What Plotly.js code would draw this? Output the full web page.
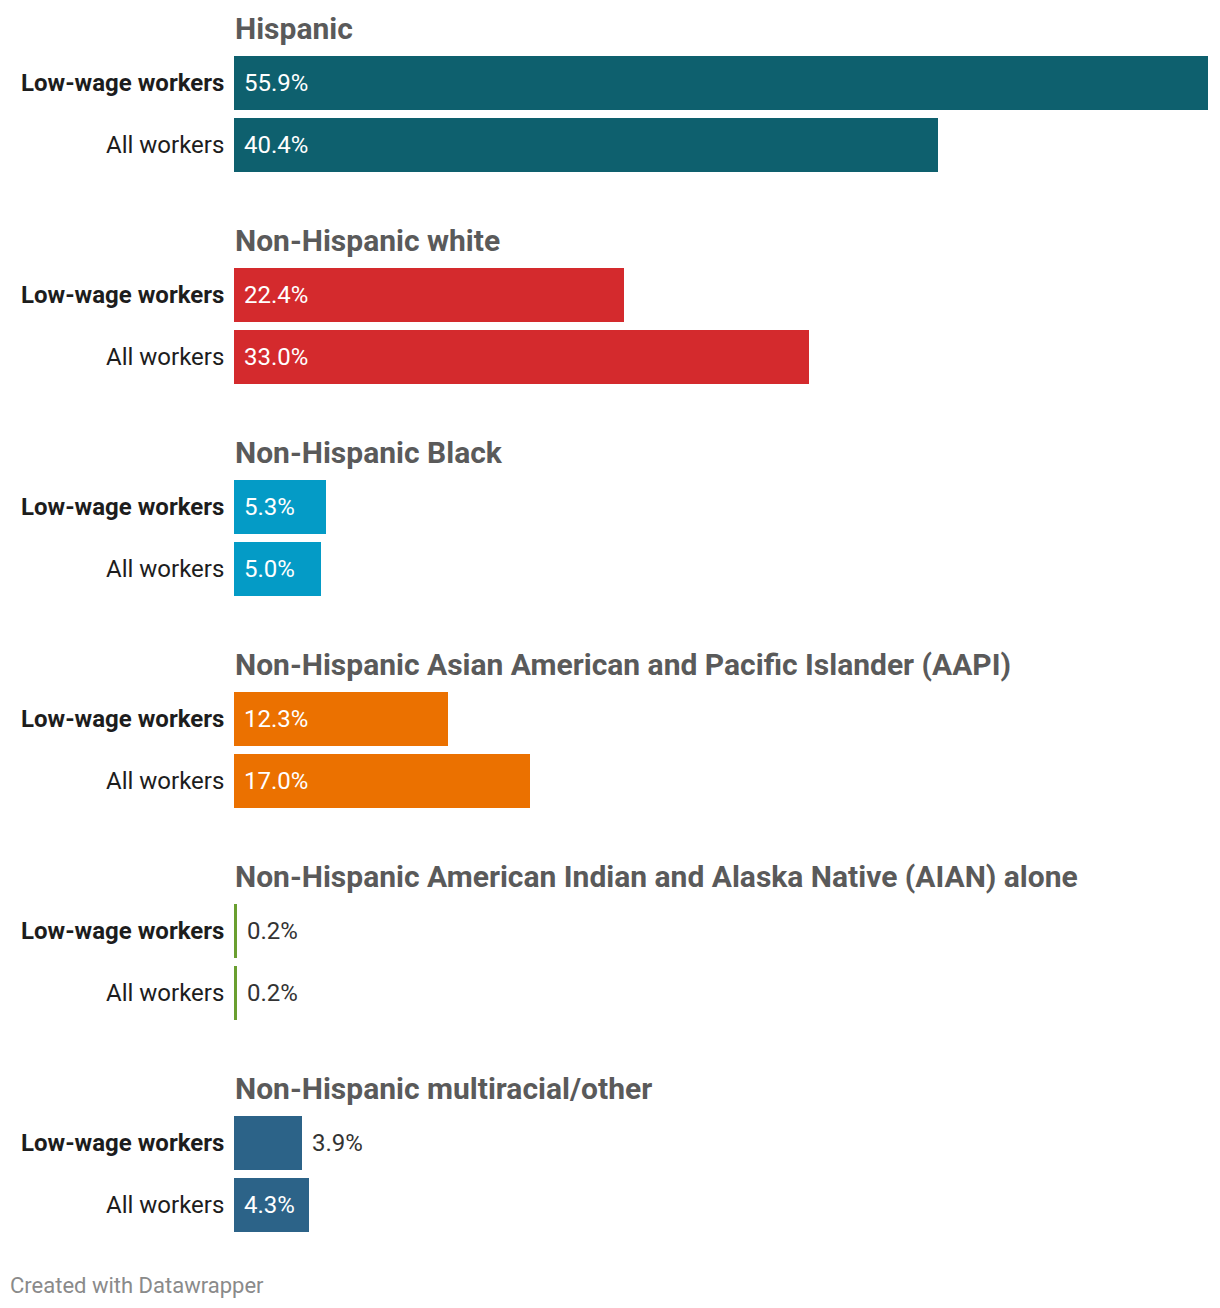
<!DOCTYPE html>
<html>
<head>
<meta charset="utf-8">
<script src="https://cdn.plot.ly/plotly-3.0.1.min.js"></script>
<style>html,body{margin:0;padding:0;background:#fff;}#chart{width:1220px;height:1308px;}</style>
</head>
<body>
<div id="chart"></div>
<script>
// ---- data ----
const groups = [
  "Hispanic",
  "Non-Hispanic white",
  "Non-Hispanic Black",
  "Non-Hispanic Asian American and Pacific Islander (AAPI)",
  "Non-Hispanic American Indian and Alaska Native (AIAN) alone",
  "Non-Hispanic multiracial/other"
];
const rowLabels = ["Low-wage workers", "All workers"];
const lowWage = [55.9, 22.4, 5.3, 12.3, 0.2, 3.9];
const allWorkers = [40.4, 33.0, 5.0, 17.0, 0.2, 4.3];
const groupColors = ["#0e606e", "#d42a2d", "#049bc6", "#eb7100", "#6a9f30", "#2c6388"];

// ---- layout helpers (pixel-like y units) ----
const W = 1220, H = 1308;
const firstRow = 83, rowStep = 62, groupStep = 212, barH = 54, titleOff = 55;
const fontFam = "Roboto, 'Noto Sans', sans-serif";

const traces = [];
const annotations = [];

groups.forEach((g, i) => {
  const vals = [lowWage[i], allWorkers[i]];
  const ys = [0, 1].map(r => firstRow + i * groupStep + r * rowStep);
  traces.push({
    type: "bar",
    orientation: "h",
    x: vals,
    y: ys,
    width: barH,
    marker: { color: groupColors[i], line: { width: 0 } },
    hoverinfo: "skip",
    showlegend: false
  });
  annotations.push({
    x: 0, y: firstRow + i * groupStep - titleOff, xref: "x", yref: "y",
    text: "<b>" + g + "</b>", showarrow: false, xanchor: "left", yanchor: "middle",
    xshift: -1,
    font: { family: fontFam, size: 30, color: "#5a5a5a" }
  });
  vals.forEach((v, r) => {
    annotations.push({
      x: 0, y: ys[r], xref: "x", yref: "y",
      text: r === 0 ? "<b>" + rowLabels[r] + "</b>" : rowLabels[r],
      showarrow: false, xanchor: "right", yanchor: "middle", xshift: -8,
      font: { family: fontFam, size: 24, color: "#1d1d1d" }
    });
    const inside = v >= 4;
    annotations.push({
      x: inside ? 0 : v, y: ys[r], xref: "x", yref: "y",
      text: v.toFixed(1) + "%",
      showarrow: false, xanchor: "left", yanchor: "middle", xshift: inside ? 8 : 8,
      font: { family: fontFam, size: 24, color: inside ? "#ffffff" : "#333333" }
    });
  });
});

const plotL = 234, plotR = 12;
annotations.push({
  xref: "paper", yref: "paper",
  x: (8 - plotL) / (W - plotL - plotR), y: 0, yanchor: "bottom", yshift: 8,
  xanchor: "left", showarrow: false,
  text: "Created with Datawrapper",
  font: { family: fontFam, size: 22, color: "#8a8a8a" }
});

const layout = {
  width: W, height: H,
  margin: { l: plotL, r: plotR, t: 0, b: 0 },
  paper_bgcolor: "#ffffff", plot_bgcolor: "#ffffff",
  bargap: 0,
  xaxis: { range: [0, 55.9], visible: false, fixedrange: true },
  yaxis: { range: [H, 0], visible: false, fixedrange: true },
  annotations: annotations,
  font: { family: fontFam }
};

Plotly.newPlot("chart", traces, layout, { staticPlot: true, displayModeBar: false });
</script>
</body>
</html>
